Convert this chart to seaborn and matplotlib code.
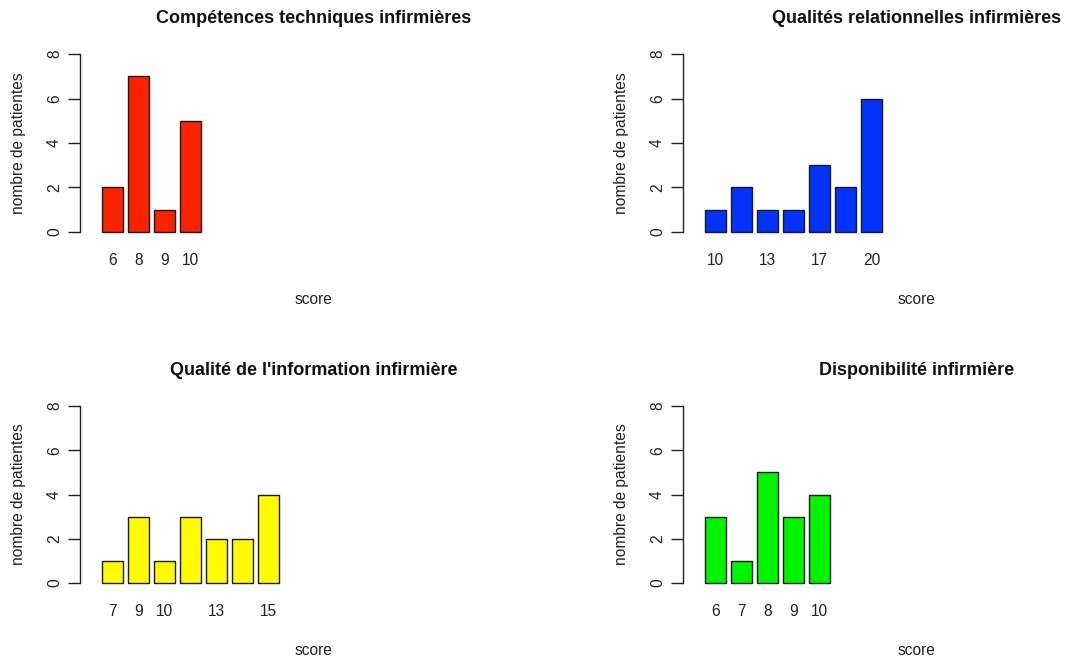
import seaborn as sns
import matplotlib.pyplot as plt
import pandas as pd

# -----------------------------
# data read off the four R barplots
# -----------------------------
comp_scores = ["6", "8", "9", "10"]
comp_counts = [2, 7, 1, 5]
comp_ticks = ["6", "8", "9", "10"]

rel_scores = ["10", "12", "13", "15", "17", "18", "20"]
rel_counts = [1, 2, 1, 1, 3, 2, 6]
rel_ticks = ["10", "", "13", "", "17", "", "20"]   # R drops overlapping names

info_scores = ["7", "9", "10", "12", "13", "14", "15"]
info_counts = [1, 3, 1, 3, 2, 2, 4]
info_ticks = ["7", "9", "10", "", "13", "", "15"]

disp_scores = ["6", "7", "8", "9", "10"]
disp_counts = [3, 1, 5, 3, 4]
disp_ticks = ["6", "7", "8", "9", "10"]

titles = ["Compétences techniques infirmières",
          "Qualités relationnelles infirmières",
          "Qualité de l'information infirmière",
          "Disponibilité infirmière"]
colors = ["#fa2200", "#0433ff", "#fffa00", "#00f400"]

panels = [
    (comp_scores, comp_counts, comp_ticks),
    (rel_scores, rel_counts, rel_ticks),
    (info_scores, info_counts, info_ticks),
    (disp_scores, disp_counts, disp_ticks),
]

# -----------------------------
# style: mimic base R graphics
# -----------------------------
sns.set_style("white")
plt.rcParams["font.family"] = ["Liberation Sans", "DejaVu Sans"]
ink = "#222222"
fs = 11.2

W, H = 1086, 662
fig = plt.figure(figsize=(W / 100, H / 100), dpi=100)

# plot regions in pixels: (left, top, width, height)
regions = [(80, 47, 468, 192), (683, 47, 468, 192),
           (80, 399, 468, 191), (683, 399, 468, 191)]

for (scores, counts, ticks), title, color, (left, top, w, h) in zip(panels, titles, colors, regions):
    ax = fig.add_axes([left / W, 1 - (top + h) / H, w / W, h / H])
    df = pd.DataFrame({"score": scores, "n": counts})
    sns.barplot(data=df, x="score", y="n", order=scores, color=color,
                saturation=1, width=1 / 1.2, edgecolor="#1a1a1a",
                linewidth=1.0, ax=ax)

    # R: xlim = c(0, 20), width 1, space 0.2 -> category units of 1.2
    ax.set_xlim((-0.8 - 0.7) / 1.2, (20.8 - 0.7) / 1.2)
    ax.set_ylim(-0.32, 8.32)

    for s in ["top", "right", "bottom"]:
        ax.spines[s].set_visible(False)
    ax.spines["left"].set_bounds(0, 8)
    ax.spines["left"].set_color(ink)
    ax.spines["left"].set_linewidth(1.0)

    ax.set_yticks([0, 2, 4, 6, 8])
    ax.set_yticklabels(["0", "2", "4", "6", "8"], rotation=90, va="center")
    ax.tick_params(axis="y", left=True, length=9, width=1.0, color=ink, pad=4,
                   labelsize=fs, labelcolor=ink)
    ax.set_xticks(range(len(scores)))
    ax.set_xticklabels(ticks)
    ax.tick_params(axis="x", bottom=False, length=0, pad=10, labelsize=fs,
                   labelcolor=ink)

    ax.set_xlabel("score", fontsize=fs, color=ink)
    ax.xaxis.set_label_coords(0.5, -53 / h)
    ax.set_ylabel("nombre de patientes", fontsize=fs, color=ink)
    ax.yaxis.set_label_coords(-54 / w, 0.5)
    ax.set_title(title, fontsize=13, fontweight="bold", color="#111111", pad=17)

fig.savefig("out.png", dpi=100)
plt.close(fig)
